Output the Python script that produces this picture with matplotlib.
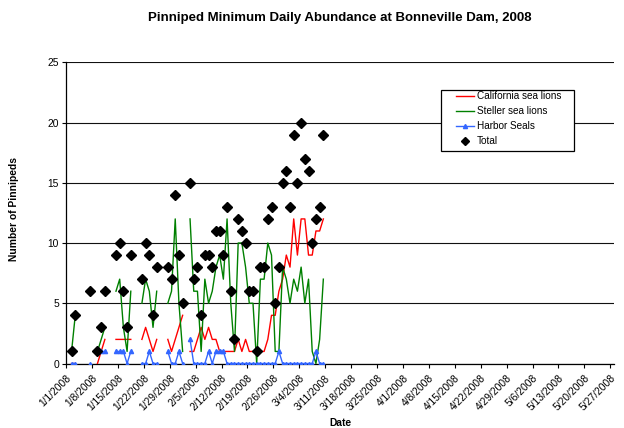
import datetime as dt
import numpy as np
import matplotlib
matplotlib.use("Agg")
import matplotlib.pyplot as plt
import matplotlib.dates as mdates
from matplotlib.patches import Rectangle
from matplotlib.lines import Line2D

plt.rcParams['font.family'] = ['Liberation Sans', 'DejaVu Sans']

nan = np.nan
first_day = dt.date(2008, 1, 2)

# daily counts from 1/2/2008 to 3/10/2008, nan = no count that day
california = [0, 0, nan, nan, nan, 0, nan, 0, 1, 2,
              nan, nan, 2, 2, 2, 2, 2, nan, nan, 2,
              3, 2, 1, 2, nan, nan, 2, 1, 2, 3,
              4, nan, 1, 1, 2, 3, 2, 3, 2, 2,
              1, 1, 1, 1, 1, 2, 1, 2, 1, 1,
              1, 1, 1, 2, 4, 4, 6, 7, 9, 8,
              12, 9, 12, 12, 9, 9, 11, 11, 12]
steller = [1, 4, nan, nan, nan, 6, nan, 1, 2, 3,
           nan, nan, 6, 7, 3, 1, 6, nan, nan, 5,
           7, 6, 3, 6, nan, nan, 5, 6, 12, 5,
           1, nan, 12, 6, 6, 1, 7, 5, 6, 8,
           9, 7, 12, 5, 1, 10, 10, 8, 5, 5,
           0, 7, 7, 10, 9, 1, 1, 8, 7, 5,
           7, 6, 8, 5, 7, 1, 0, 2, 7]
harbor = [0, 0, nan, nan, nan, 0, nan, nan, 1, 1,
          nan, nan, 1, 1, 1, 0, 1, nan, nan, 0,
          0, 1, 0, 0, nan, nan, 1, 0, 0, 1,
          0, nan, 2, 0, 0, 0, 0, 1, 0, 1,
          1, 1, 0, 0, 0, 0, 0, 0, 0, 0,
          0, 0, 0, 0, 0, 0, 1, 0, 0, 0,
          0, 0, 0, 0, 0, 0, 1, 0, 0]
total = [1, 4, nan, nan, nan, 6, nan, 1, 3, 6,
         nan, nan, 9, 10, 6, 3, 9, nan, nan, 7,
         10, 9, 4, 8, nan, nan, 8, 7, 14, 9,
         5, nan, 15, 7, 8, 4, 9, 9, 8, 11,
         11, 9, 13, 6, 2, 12, 11, 10, 6, 6,
         1, 8, 8, 12, 13, 5, 8, 15, 16, 13,
         19, 15, 20, 17, 16, 10, 12, 13, 19]

days = [first_day + dt.timedelta(days=i) for i in range(len(total))]
# Excel puts each day's point in the middle of its slot
x = mdates.date2num(days) + 0.5

tick_days = [dt.date(2008, 1, 1) + dt.timedelta(days=7 * k) for k in range(22)]
tick_labels = [f"{d.month}/{d.day}/{d.year}" for d in tick_days]

fig = plt.figure(figsize=(6.24, 4.28), dpi=100)
ax = fig.add_axes([66 / 624, 1 - 363.5 / 428, (614 - 66) / 624, (363.5 - 62.3) / 428])

ax.plot(x, california, color='#FF0000', lw=1.0, zorder=3)
ax.plot(x, steller, color='#008000', lw=1.0, zorder=4)
ax.plot(x, harbor, color='#3366FF', lw=1.0, marker='^', ms=3, zorder=5)
ax.plot(x, total, ls='none', marker='D', ms=5.5, color='black', zorder=6)

ax.set_xlim(mdates.date2num(dt.date(2008, 1, 1)), mdates.date2num(dt.date(2008, 5, 28)))
ax.set_ylim(0, 25)
ax.set_yticks(range(0, 26, 5))
ax.set_xticks(mdates.date2num(tick_days))
ax.set_xticklabels(tick_labels, rotation=45, ha='right', va='top', rotation_mode='anchor')
ax.tick_params(axis='both', labelsize=7.4, length=3, width=0.8, direction='out', pad=2)
ax.tick_params(axis='x', pad=4)

ax.yaxis.grid(True, color='#111111', lw=0.8)
ax.set_axisbelow(True)
for s in ['top', 'right']:
    ax.spines[s].set_visible(False)
for s in ['left', 'bottom']:
    ax.spines[s].set_linewidth(0.9)

fig.text(340 / 624, 1 - 18 / 428, "Pinniped Minimum Daily Abundance at Bonneville Dam, 2008",
         ha='center', va='center', fontsize=9.5, fontweight='bold')
fig.text(14 / 624, 1 - 209 / 428, "Number of Pinnipeds", rotation=90,
         ha='center', va='center', fontsize=7.4, fontweight='bold')
fig.text(340 / 624, 1 - 423 / 428, "Date", ha='center', va='center',
         fontsize=7.4, fontweight='bold')

# legend box
fig.patches.append(Rectangle((441 / 624, 1 - 151 / 428), 133 / 624, 61 / 428,
                             transform=fig.transFigure, facecolor='white',
                             edgecolor='black', lw=0.9, zorder=10))
handles = [
    Line2D([], [], color='#FF0000', lw=1.0),
    Line2D([], [], color='#008000', lw=1.0),
    Line2D([], [], color='#3366FF', lw=1.0, marker='^', ms=3),
    Line2D([], [], ls='none', marker='D', ms=4.5, color='black'),
]
labels = ["California sea lions", "Steller sea lions", "Harbor Seals", "Total"]
leg = fig.legend(handles, labels, loc='upper left',
                 bbox_to_anchor=(454 / 624, 1 - 89 / 428), bbox_transform=fig.transFigure,
                 frameon=False, fontsize=7.2, handlelength=1.8, handletextpad=0.3,
                 labelspacing=0.5, borderpad=0.2, borderaxespad=0)
leg.set_zorder(11)

fig.savefig("out.png", dpi=100)
